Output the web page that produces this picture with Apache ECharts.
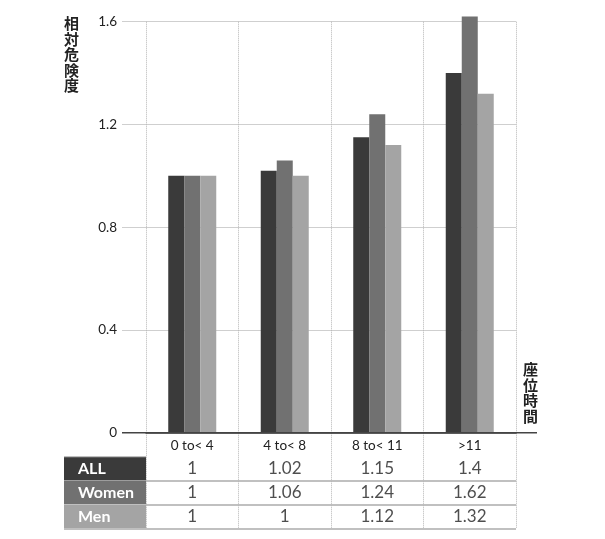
<!DOCTYPE html>
<html><head><meta charset="utf-8">
<script src="https://cdn.jsdelivr.net/npm/echarts@6/dist/echarts.min.js"></script>
<style>html,body{margin:0;padding:0;background:#fff}#c{width:605px;height:539px}</style>
</head><body><div id="c"></div>
<script>
const categories = ['0 to< 4', '4 to< 8', '8 to< 11', '>11'];
const allValues = [1, 1.02, 1.15, 1.4];
const womenValues = [1, 1.06, 1.24, 1.62];
const menValues = [1, 1, 1.12, 1.32];
const rowNames = ['ALL', 'Women', 'Men'];
const seriesColors = ['#3a3a3a', '#717171', '#a4a4a4'];
const yMax = 1.6, yStep = 0.4;

const rowsData = [allValues, womenValues, menValues];
const numFont = 'Lato, "Noto Sans", sans-serif';
const jpFont = '"Noto Sans CJK JP", sans-serif';

const chart = echarts.init(document.getElementById('c'), null, {renderer: 'canvas'});
const lastHidden = (i) => i < categories.length;

const rich = {};
rowNames.forEach((n, i) => {
  rich['c' + i] = {backgroundColor: seriesColors[i], color: '#fff', width: 68, height: 23, lineHeight: 23,
    padding: [0, 0, 0, 14], fontSize: 16, fontFamily: numFont, fontWeight: 'bold', align: 'left'};
});

const tableSeries = rowsData.map((vals, r) => ({
  type: 'scatter', xAxisIndex: 1, yAxisIndex: 1, symbol: 'rect', symbolSize: 1,
  itemStyle: {color: 'rgba(0,0,0,0)'}, silent: true,
  data: vals.map((v, i) => [i, r + 1.5, v]),
  label: {show: true, position: 'inside', formatter: p => String(p.value[2]), fontSize: 17, color: '#222', fontFamily: numFont}
}));

chart.setOption({
  animation: false,
  grid: [
    {left: 146, right: 89, top: 21.7, bottom: 106.3},
    {left: 146, right: 89, top: 432.7, bottom: 10.5}
  ],
  xAxis: [
    {type: 'category', gridIndex: 0, data: categories,
      axisLine: {show: true, lineStyle: {color: '#444', width: 1.5}}, axisTick: {show: false},
      axisLabel: {margin: 6, fontSize: 13.5, color: '#222', fontFamily: numFont},
      splitLine: {show: true, interval: lastHidden, lineStyle: {type: 'dotted', color: '#b5b5b5'}}},
    {type: 'category', gridIndex: 1, data: categories,
      axisLine: {show: false}, axisTick: {show: false}, axisLabel: {show: false},
      splitLine: {show: true, interval: lastHidden, lineStyle: {type: 'dotted', color: '#b5b5b5'}}}
  ],
  yAxis: [
    {type: 'value', gridIndex: 0, min: 0, max: yMax, interval: yStep,
      axisLine: {show: false}, axisTick: {show: true, length: 24, lineStyle: {color: '#cfcfcf'}},
      axisLabel: {margin: 29, fontSize: 13.5, color: '#222', fontFamily: numFont},
      splitLine: {show: true, lineStyle: {color: '#cfcfcf'}}},
    {type: 'value', gridIndex: 1, min: 0, max: 4, interval: 1, inverse: true,
      axisLine: {show: false},
      axisTick: {show: true, customValues: [1, 2, 3, 4], length: 82, lineStyle: {color: '#ababab', width: 1.5}},
      axisLabel: {show: true, customValues: [1.5, 2.5, 3.5], margin: 0, rich: rich,
        formatter: v => { const i = Math.round(v - 1.5); return '{c' + i + '|' + rowNames[i] + '}'; }},
      splitLine: {show: true, showMinLine: false, lineStyle: {color: '#ababab', width: 1.5}}}
  ],
  series: [
    {name: 'ALL', type: 'bar', data: allValues, barWidth: 16, barGap: 0, clip: false, itemStyle: {color: seriesColors[0]}},
    {name: 'Women', type: 'bar', data: womenValues, barWidth: 16, barGap: 0, clip: false, itemStyle: {color: seriesColors[1]}},
    {name: 'Men', type: 'bar', data: menValues, barWidth: 16, barGap: 0, clip: false, itemStyle: {color: seriesColors[2]}}
  ].concat(tableSeries)
});

const y0 = chart.convertToPixel({yAxisIndex: 0}, 0);
chart.setOption({
  graphic: [
    {type: 'line', shape: {x1: 122, y1: y0, x2: 537, y2: y0}, style: {stroke: '#444', lineWidth: 1.5}, z: 10},
    {type: 'text', left: 64, top: 16, style: {text: '相\n対\n危\n険\n度', font: 'bold 15px ' + jpFont, lineHeight: 15.5, fill: '#222'}},
    {type: 'text', left: 523, top: 362, style: {text: '座\n位\n時\n間', font: 'bold 15px ' + jpFont, lineHeight: 15.5, fill: '#222'}}
  ]
});
</script></body></html>
